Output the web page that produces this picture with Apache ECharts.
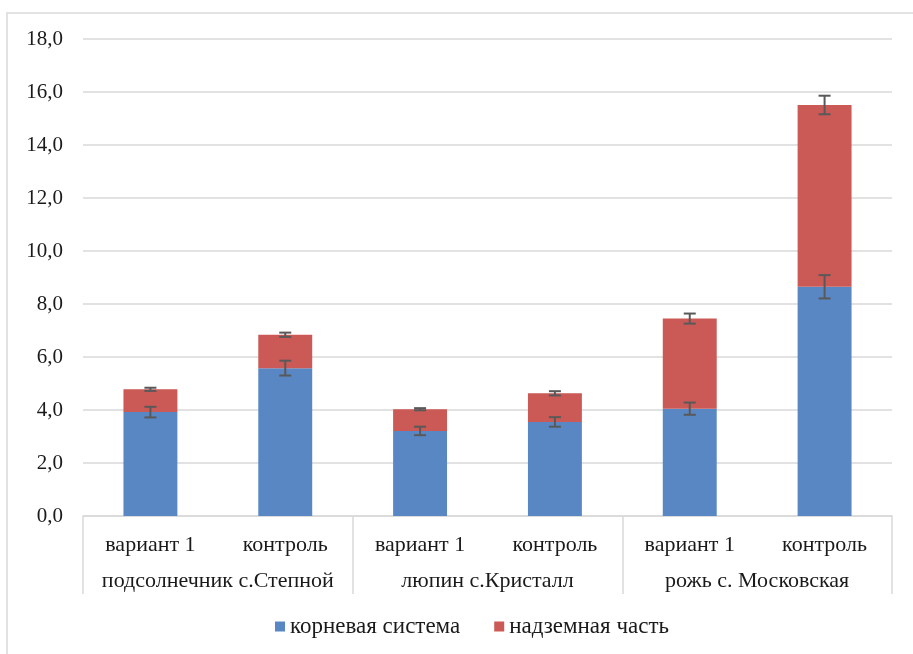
<!DOCTYPE html>
<html>
<head>
<meta charset="utf-8">
<script src="https://cdn.jsdelivr.net/npm/echarts@6/dist/echarts.min.js"></script>
<style>
html,body{margin:0;padding:0;background:#fff;}
#main{width:913px;height:654px;}
</style>
</head>
<body>
<div id="main"></div>
<script>
var categories = ['вариант 1','контроль','вариант 1','контроль','вариант 1','контроль'];
var groups = ['подсолнечник с.Степной','люпин с.Кристалл','рожь с. Московская'];
var rootValues = [3.92, 5.58, 3.21, 3.55, 4.05, 8.65];
var aboveValues = [0.86, 1.26, 0.82, 1.08, 3.40, 6.86];
var rootErr = [0.20, 0.28, 0.16, 0.18, 0.23, 0.44];
var aboveErr = [0.06, 0.08, 0.04, 0.08, 0.19, 0.35];
var seriesNames = ['корневая система','надземная часть'];

var FONT = 'Liberation Serif';
var chart = echarts.init(document.getElementById('main'));

var rootErrData = rootValues.map(function(v,i){ return [i, v, rootErr[i]]; });
var aboveErrData = aboveValues.map(function(v,i){ return [i, v + rootValues[i], aboveErr[i]]; });

function errRender(params, api){
  var x = api.value(0), y = api.value(1), e = api.value(2);
  var hi = api.coord([x, y + e]);
  var lo = api.coord([x, y - e]);
  var cw = 6;
  var st = {stroke:'#595959', lineWidth:2};
  return {type:'group', children:[
    {type:'line', shape:{x1:hi[0],y1:hi[1],x2:lo[0],y2:lo[1]}, style:st},
    {type:'line', shape:{x1:hi[0]-cw,y1:hi[1],x2:hi[0]+cw,y2:hi[1]}, style:st},
    {type:'line', shape:{x1:lo[0]-cw,y1:lo[1],x2:lo[0]+cw,y2:lo[1]}, style:st}
  ]};
}

chart.setOption({
  animation:false,
  backgroundColor:'#fff',
  textStyle:{fontFamily:FONT},
  graphic:[{type:'rect', shape:{x:7,y:13,width:940,height:700}, style:{fill:'none',stroke:'#d9d9d9',lineWidth:1.5}, silent:true}],
  grid:{left:83,right:21,top:39,bottom:138,containLabel:false},
  legend:{
    data:seriesNames, bottom:11, left:270,
    itemWidth:10, itemHeight:10, itemGap:34, icon:'rect',
    textStyle:{fontFamily:FONT,fontSize:23,color:'#1a1a1a'}
  },
  xAxis:[{
    type:'category', data:categories, position:'bottom',
    axisLine:{show:true,lineStyle:{color:'#d9d9d9',width:1.5}},
    axisTick:{show:false},
    axisLabel:{fontFamily:FONT,fontSize:22,color:'#1a1a1a',margin:18,interval:0}
  },{
    type:'category', data:groups, position:'bottom', gridIndex:0,
    axisLine:{show:false},
    axisTick:{show:true,length:78,inside:false,alignWithLabel:false,lineStyle:{color:'#d9d9d9',width:1.5}},
    axisLabel:{fontFamily:FONT,fontSize:22,color:'#1a1a1a',margin:54,interval:0}
  }],
  yAxis:{
    type:'value', min:0, max:18, interval:2,
    axisLine:{show:false}, axisTick:{show:false},
    splitLine:{lineStyle:{color:'#d9d9d9',width:1.5}},
    axisLabel:{fontFamily:FONT,fontSize:21,color:'#1a1a1a',margin:20,
      formatter:function(v){return v.toFixed(1).replace('.',',');}}
  },
  series:[
    {name:seriesNames[0], type:'bar', stack:'s', data:rootValues, barWidth:'40%', itemStyle:{color:'#5987C4'}},
    {name:seriesNames[1], type:'bar', stack:'s', data:aboveValues, barWidth:'40%', itemStyle:{color:'#CB5955'}},
    {type:'custom', renderItem:errRender, data:rootErrData, encode:{x:0,y:1}, z:10},
    {type:'custom', renderItem:errRender, data:aboveErrData, encode:{x:0,y:1}, z:10}
  ]
});
</script>
</body>
</html>
